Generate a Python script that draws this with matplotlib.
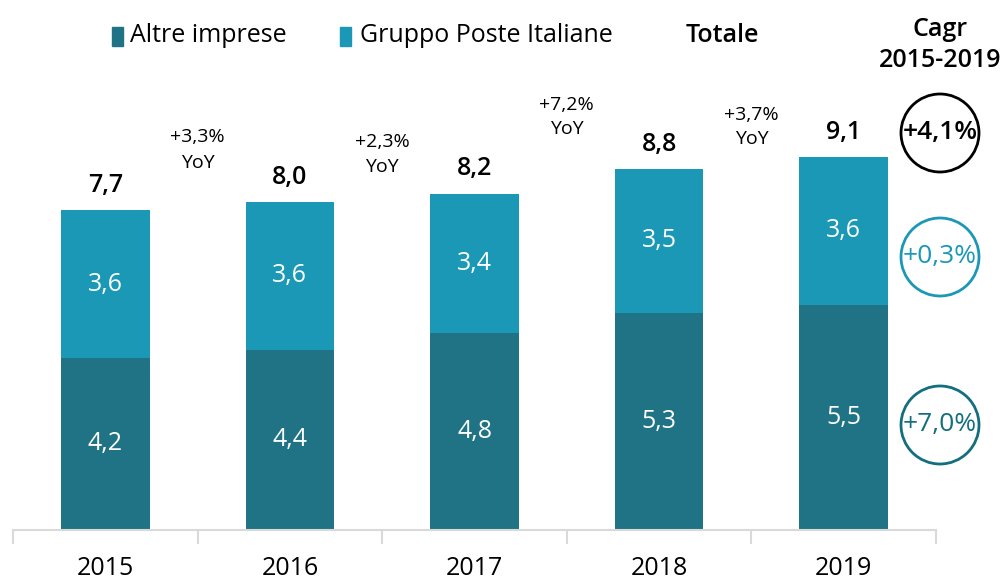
import matplotlib.pyplot as plt
from matplotlib.patches import Ellipse

# --- Data ---
years = ["2015", "2016", "2017", "2018", "2019"]
altre = [4.2, 4.4, 4.8, 5.3, 5.5]
poste = [3.6, 3.6, 3.4, 3.5, 3.6]
totals = [7.7, 8.0, 8.2, 8.8, 9.1]
yoy = ["+3,3%", "+2,3%", "+7,2%", "+3,7%"]
yoy_y = [150, 155, 117, 127]          # pixel height of the YoY labels
cagr = ["+4,1%", "+0,3%", "+7,0%"]

dark = "#1F7385"
light = "#1A98B5"

plt.rcParams["font.family"] = ["Open Sans", "DejaVu Sans"]

W, H = 1000, 582
fig = plt.figure(figsize=(10, 5.82), dpi=100)
ax = fig.add_axes([13 / W, 1 - 530 / H, (936 - 13) / W, 530 / H])

x = list(range(len(years)))
bw = 0.48
ax.bar(x, altre, bw, color=dark)
ax.bar(x, poste, bw, bottom=altre, color=light)

ax.set_xlim(-0.5, len(years) - 0.5)
ax.set_ylim(0, 530 / 41.0)

for i in x:
    ax.text(i, altre[i] / 2, f"{altre[i]:.1f}".replace(".", ","), color="white",
            ha="center", va="center", fontsize=18)
    ax.text(i, altre[i] + poste[i] / 2, f"{poste[i]:.1f}".replace(".", ","), color="white",
            ha="center", va="center", fontsize=18)
    ax.text(i, altre[i] + poste[i] + 0.3, f"{totals[i]:.1f}".replace(".", ","), color="black",
            ha="center", va="bottom", fontsize=18, fontweight="semibold")

# YoY labels between bars
for k, lab in enumerate(yoy):
    fig.text((13 + (k + 1) * 184.6) / W, 1 - yoy_y[k] / H, lab + "\nYoY", ha="center",
             va="center", fontsize=14, linespacing=1.5)

# axis styling
for s in ["top", "right", "left"]:
    ax.spines[s].set_visible(False)
ax.spines["bottom"].set_color("#D9D9D9")
ax.spines["bottom"].set_linewidth(1.5)
ax.set_yticks([])
ax.set_xticks([i - 0.5 for i in range(len(years) + 1)])
ax.set_xticklabels([])
ax.tick_params(axis="x", length=10, width=1.5, color="#D9D9D9")
for i, yr in enumerate(years):
    ax.text(i, -0.93, yr, ha="center", va="center", fontsize=18)

# legend
fig.patches.append(plt.Rectangle((112 / W, 1 - 46 / H), 11 / W, 19 / H, color=dark,
                                 transform=fig.transFigure))
fig.text(130 / W, 1 - 36 / H, "Altre imprese", va="center", fontsize=18)
fig.patches.append(plt.Rectangle((340 / W, 1 - 46 / H), 11 / W, 19 / H, color=light,
                                 transform=fig.transFigure))
fig.text(360 / W, 1 - 36 / H, "Gruppo Poste Italiane", va="center", fontsize=18)
fig.text(722 / W, 1 - 36 / H, "Totale", ha="center", va="center", fontsize=18,
         fontweight="semibold")
fig.text(940 / W, 1 - 45 / H, "Cagr\n2015-2019", ha="center", va="center", fontsize=18,
         fontweight="semibold", linespacing=1.3)

# CAGR circles
circ_y = [133, 257, 425]
circ_c = ["black", light, "#136E7E"]
for cy, col, lab in zip(circ_y, circ_c, cagr):
    fig.add_artist(Ellipse((940 / W, 1 - cy / H), 78 / W, 78 / H, fill=False,
                           edgecolor=col, linewidth=2, transform=fig.transFigure))
    fig.text(940 / W, 1 - cy / H, lab, ha="center", va="center", fontsize=19, color=col,
             fontweight="semibold" if col == "black" else "normal")

fig.savefig("out.png", dpi=100)
